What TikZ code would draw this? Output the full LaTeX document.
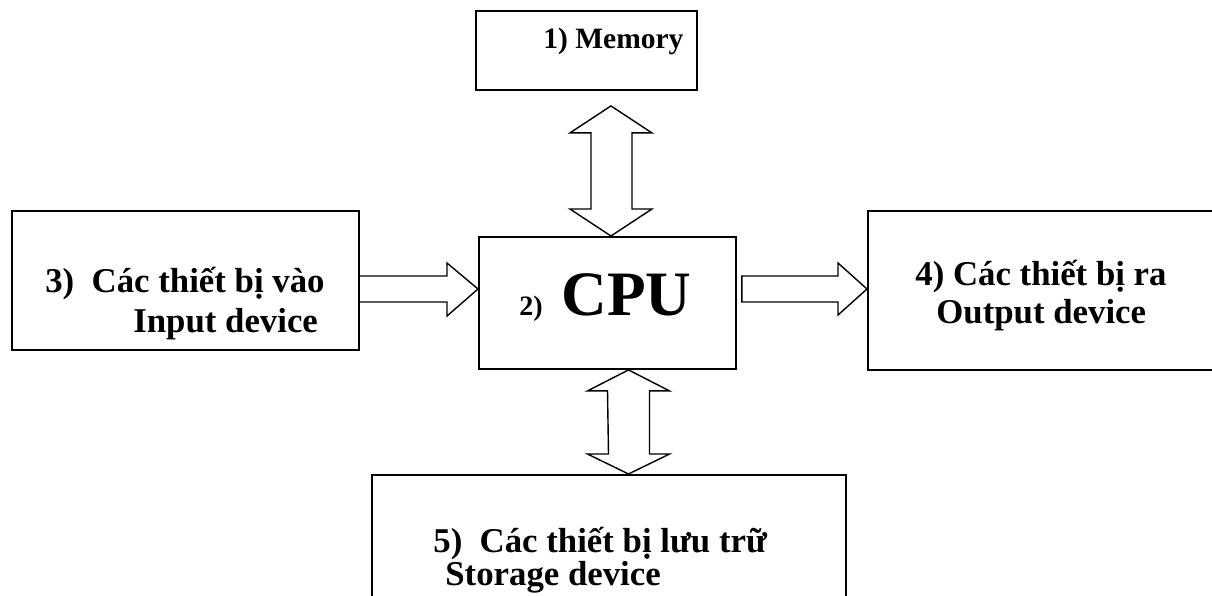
\documentclass[tikz,border=0pt]{standalone}
\usepackage{fontspec}
\setmainfont{Liberation Serif}
\usetikzlibrary{calc}

\begin{document}
\begin{tikzpicture}[x=0.02cm, y=-0.02cm,
    box/.style={draw, line width=1.1pt, inner sep=0pt, anchor=north west},
    fat/.style={draw, line width=0.8pt, line join=miter},
    lbl/.style={anchor=base west, inner sep=0pt, font=\bfseries\fontsize{19.8}{24}\selectfont}]
    \useasboundingbox (0,0) rectangle (1212,595);
    \clip (0,0) rectangle (1212,595);
    % blocks
    \node[box, minimum width=4.42cm, minimum height=1.58cm] (mem) at (475,10) {};
    \node[box, minimum width=6.94cm, minimum height=2.78cm] (input) at (11,210) {};
    \node[box, minimum width=5.14cm, minimum height=2.64cm] (cpu) at (478,236) {};
    \node[box, minimum width=7.26cm, minimum height=3.18cm] (output) at (867,210) {};
    \node[box, minimum width=9.48cm, minimum height=2.92cm] (storage) at (371,474) {};
    % texts
    \node[lbl, font=\bfseries\fontsize{16.8}{20}\selectfont] (memText) at (543,48) {1) Memory};
    \node[lbl] (inText1) at (45,292) {3)\ \ Các thiết bị vào};
    \node[lbl] (inText2) at (133,332) {Input device};
    \node[lbl, font=\bfseries\fontsize{16}{19}\selectfont] (cpuNum) at (519,315) {2)};
    \node[lbl, font=\bfseries\fontsize{36}{40}\selectfont] (cpuText) at (561,315) {CPU};
    \node[lbl] (outText1) at (915,285) {4) Các thiết bị ra};
    \node[lbl] (outText2) at (936,323) {Output device};
    \node[lbl] (stoText1) at (433,552) {5)\ \ Các thiết bị lưu trữ};
    \node[lbl] (stoText2) at (445,585) {Storage device};
    % input -> cpu
    \coordinate (inTip) at (cpu.west |- 0,289);
    \draw[fat] (input.east |- 0,276) -- (447,276) -- (447,263) -- (inTip)
        -- (447,316) -- (447,302) -- (input.east |- 0,302);
    % cpu -> output
    \coordinate (outTip) at (output.west |- 0,289);
    \draw[fat] ($(cpu.east |- 0,276)+(5,0)$) -- (838,276) -- (838,263) -- (outTip)
        -- (838,315) -- (838,302) -- ($(cpu.east |- 0,302)+(5,0)$) -- cycle;
    % memory <-> cpu
    \coordinate (memTip) at ($(mem.south)+(24.5,15)$);
    \coordinate (cpuTop) at (cpu.north -| memTip);
    \draw[fat] (memTip) -- ++(41,27) -- ++(-20,0) -- ($(cpuTop)+(21,-27)$) -- ++(20,0)
        -- (cpuTop) -- ++(-41,-27) -- ++(21,0) -- ($(memTip)+(-20,27)$) -- ++(-21,0) -- cycle;
    % cpu <-> storage
    \coordinate (cpuBot) at (cpu.south -| 628.5,0);
    \coordinate (stoTip) at (storage.north -| cpuBot);
    \draw[fat] (cpuBot) -- ++(41,21) -- ++(-20,0) -- ($(stoTip)+(21,-20)$) -- ++(20,0)
        -- (stoTip) -- ++(-41,-20) -- ++(21,0) -- ($(cpuBot)+(-21,21)$) -- ++(-20,0) -- cycle;
\end{tikzpicture}
\end{document}
